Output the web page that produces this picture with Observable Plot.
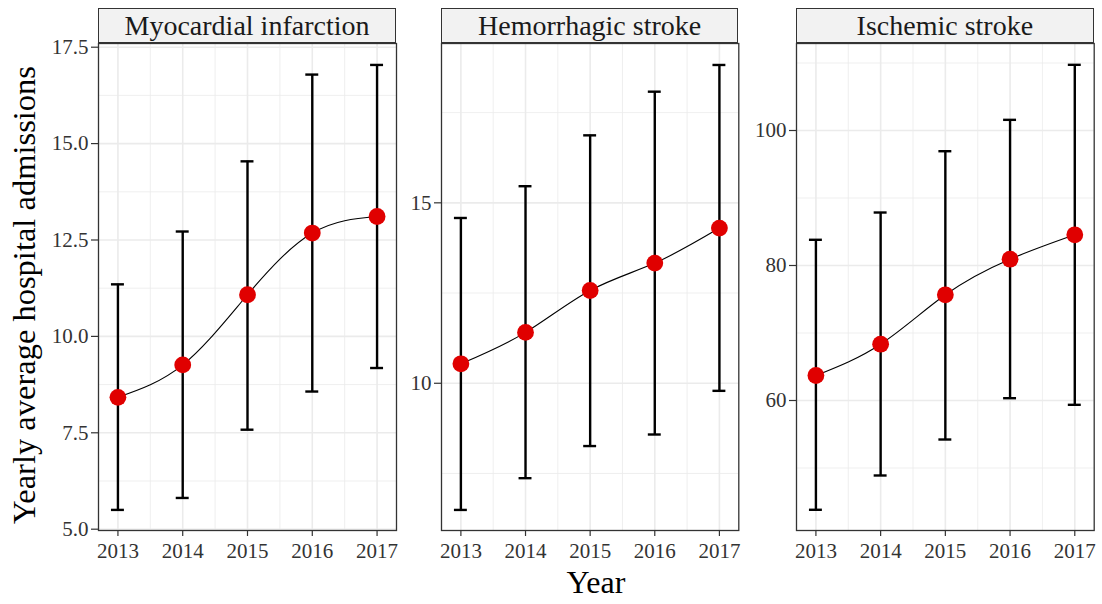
<!DOCTYPE html>
<html>
<head>
<meta charset="utf-8">
<script src="https://cdn.jsdelivr.net/npm/d3@7"></script>
<script src="https://cdn.jsdelivr.net/npm/@observablehq/plot@0.6"></script>
<style>
  html, body { margin: 0; padding: 0; background: #fff; }
  #wrap { position: relative; width: 1102px; height: 604px; font-family: "Liberation Serif", "Times New Roman", serif; }
  #wrap svg { position: absolute; top: 0; }
  #wrap svg text { font-family: "Liberation Serif", "Times New Roman", serif; }
  .strip { position: absolute; top: 8px; height: 35px; box-sizing: border-box; border: 1.3px solid #333;
           background: #F2F2F2; text-align: center; font-size: 28px; line-height: 32px; padding-top: 0.5px; color: #1a1a1a; }
  .xtitle { position: absolute; left: 0; width: 1191.8px; top: 566px; text-align: center; font-size: 32px; line-height: 32px; color: #000; }
  .ytitle { position: absolute; left: 24px; top: 295px; font-size: 32.5px; line-height: 32px; white-space: nowrap; color: #000;
            transform: translate(-50%, -50%) rotate(-90deg); }
</style>
</head>
<body>
<div id="wrap"></div>
<script>
// ---- data ----
const years = [2013, 2014, 2015, 2016, 2017];
const panelTitles = ["Myocardial infarction", "Hemorrhagic stroke", "Ischemic stroke"];

const miMean = [8.42, 9.26, 11.08, 12.68, 13.11];
const miLow  = [5.50, 5.81, 7.58, 8.57, 9.18];
const miHigh = [11.35, 12.72, 14.54, 16.79, 17.04];

const hsMean = [10.54, 11.41, 12.57, 13.33, 14.30];
const hsLow  = [6.49, 7.37, 8.26, 8.58, 9.79];
const hsHigh = [14.58, 15.46, 16.87, 18.08, 18.82];

const isMean = [63.70, 68.34, 75.66, 80.93, 84.55];
const isLow  = [43.81, 48.89, 54.22, 60.34, 59.36];
const isHigh = [83.81, 87.85, 96.93, 101.58, 109.73];

const miTicks = [5.0, 7.5, 10.0, 12.5, 15.0, 17.5];
const miMinor = [6.25, 8.75, 11.25, 13.75, 16.25];
const hsTicks = [10, 15];
const hsMinor = [7.5, 12.5, 17.5];
const isTicks = [60, 80, 100];
const isMinor = [50, 70, 90, 110];
const xMinor = [2013.5, 2014.5, 2015.5, 2016.5];

// ---- layout ----
const FONT = "'Liberation Serif', 'Times New Roman', serif";
const panels = [
  {title: panelTitles[0], mean: miMean, low: miLow, high: miHigh, ticks: miTicks, minor: miMinor,
   fmt: d3.format(".1f"), ydom: [4.966, 17.596], left: 0, width: 400, ml: 98, mr: 4},
  {title: panelTitles[1], mean: hsMean, low: hsLow, high: hsHigh, ticks: hsTicks, minor: hsMinor,
   fmt: d3.format("d"), ydom: [5.92, 19.415], left: 400, width: 345, ml: 41, mr: 6.7},
  {title: panelTitles[2], mean: isMean, low: isLow, high: isHigh, ticks: isTicks, minor: isMinor,
   fmt: d3.format("d"), ydom: [40.74, 112.89], left: 745, width: 357, ml: 51, mr: 8.3}
];

const wrap = document.getElementById("wrap");
const H = 604, MT = 43, MB = 74;

for (const p of panels) {
  const rows = years.map((y, i) => ({year: y, mean: p.mean[i], low: p.low[i], high: p.high[i]}));
  const chart = Plot.plot({
    width: p.width, height: H,
    marginLeft: p.ml, marginRight: p.mr, marginTop: MT, marginBottom: MB,
    style: {fontFamily: FONT, fontSize: "21px", color: "#333", background: "transparent", overflow: "visible"},
    x: {domain: [2012.7, 2017.3]},
    y: {domain: p.ydom},
    marks: [
      Plot.gridX(xMinor, {stroke: "#EBEBEB", strokeOpacity: 1, strokeWidth: 0.8}),
      Plot.gridY(p.minor, {stroke: "#EBEBEB", strokeOpacity: 1, strokeWidth: 0.8}),
      Plot.gridX(years, {stroke: "#EBEBEB", strokeOpacity: 1, strokeWidth: 1.6}),
      Plot.gridY(p.ticks, {stroke: "#EBEBEB", strokeOpacity: 1, strokeWidth: 1.6}),
      Plot.ruleX(rows, {x: "year", y1: "low", y2: "high", stroke: "#000", strokeWidth: 2.4}),
      Plot.ruleY(rows, {y: "high", x1: d => d.year - 0.1, x2: d => d.year + 0.1, stroke: "#000", strokeWidth: 2.4}),
      Plot.ruleY(rows, {y: "low", x1: d => d.year - 0.1, x2: d => d.year + 0.1, stroke: "#000", strokeWidth: 2.4}),
      Plot.line(rows, {x: "year", y: "mean", curve: "natural", stroke: "#000", strokeWidth: 1.1}),
      Plot.dot(rows, {x: "year", y: "mean", r: 8.4, fill: "#E00000", stroke: "none"}),
      Plot.frame({stroke: "#333", strokeWidth: 1.3}),
      Plot.axisY(p.ticks, {tickSize: 7, tickPadding: 3, tickFormat: p.fmt, stroke: "#333", strokeWidth: 1.2, fill: "#333",
                           fontFamily: FONT, fontSize: 21, label: null}),
      Plot.axisX(years, {tickSize: 6, tickPadding: 7, tickFormat: d => String(d), stroke: "#333", strokeWidth: 1.2, fill: "#333",
                         fontFamily: FONT, fontSize: 21, label: null})
    ]
  });
  chart.style.left = p.left + "px";
  wrap.appendChild(chart);

  const strip = document.createElement("div");
  strip.className = "strip";
  strip.style.left = (p.left + p.ml) + "px";
  strip.style.width = (p.width - p.ml - p.mr) + "px";
  strip.textContent = p.title;
  wrap.appendChild(strip);
}

const xt = document.createElement("div");
xt.className = "xtitle";
xt.textContent = "Year";
wrap.appendChild(xt);

const yt = document.createElement("div");
yt.className = "ytitle";
yt.textContent = "Yearly average hospital admissions";
wrap.appendChild(yt);
</script>
</body>
</html>
